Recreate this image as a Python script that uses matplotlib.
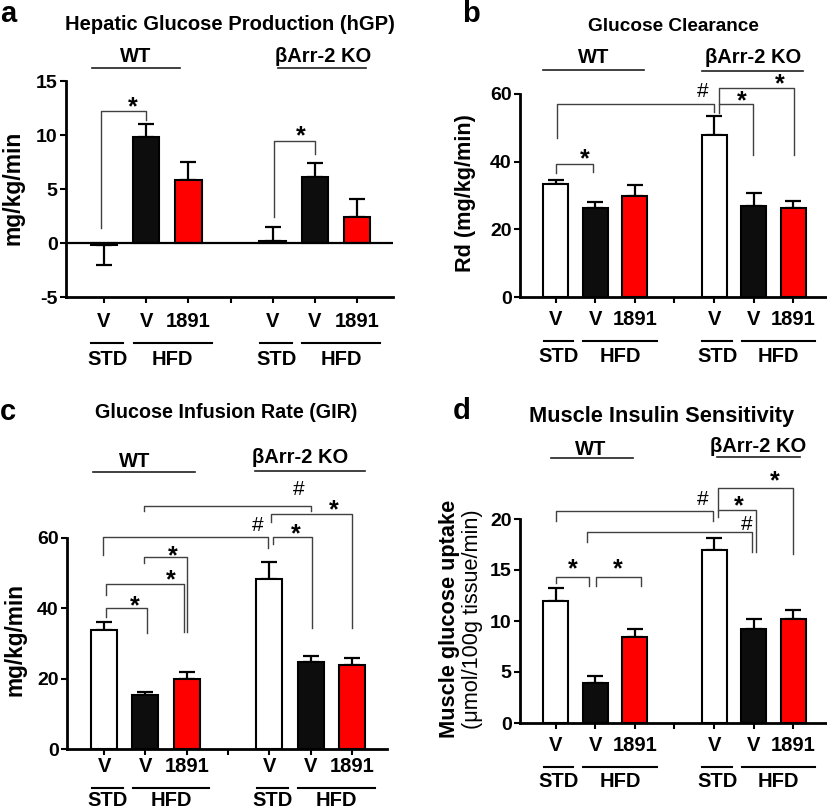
import matplotlib
matplotlib.use('Agg')
import matplotlib.pyplot as plt
from matplotlib.transforms import offset_copy

plt.rcParams['font.family'] = ['Liberation Sans', 'DejaVu Sans']
plt.rcParams['font.weight'] = 'bold'
plt.rcParams['axes.unicode_minus'] = False

W, H = 827, 810

# bar layout: WT (STD V, HFD V, HFD 1891), gap, KO (STD V, HFD V, HFD 1891)
positions = [0, 1, 2, 4, 5, 6]
tick_pos = [0, 1, 2, 3, 4, 5, 6]
bar_colors = ['white', '#0d0d0d', '#ff0000', 'white', '#0d0d0d', '#ff0000']
tick_text = ['V', 'V', '1891', 'V', 'V', '1891']

# a: hepatic glucose production (mg/kg/min)
hgp_mean = [-0.2, 9.8, 5.8, 0.15, 6.1, 2.4]
hgp_sem = [1.8, 1.2, 1.7, 1.35, 1.3, 1.7]
# b: glucose clearance Rd (mg/kg/min)
rd_mean = [33.5, 26.3, 30.0, 47.8, 26.8, 26.2]
rd_sem = [1.2, 1.7, 3.0, 5.7, 3.9, 2.1]
# c: glucose infusion rate (mg/kg/min)
gir_mean = [33.8, 15.2, 20.0, 48.3, 24.7, 23.8]
gir_sem = [2.2, 1.0, 1.8, 4.9, 1.8, 2.1]
# d: muscle glucose uptake (umol/100g tissue/min)
mgu_mean = [12.0, 3.9, 8.4, 17.0, 9.2, 10.2]
mgu_sem = [1.2, 0.7, 0.8, 1.1, 1.0, 0.9]

# significance brackets: x_left, y_left, x_right, y_right, y_top, symbol, sym_x, sym_y
hgp_sig = [(-0.07, 1.4, 1.0, 11.4, 12.2, '*', 0.68, 11.9),
           (4.03, 2.4, 5.0, 8.2, 9.4, '*', 4.67, 9.2)]
rd_sig = [(0.0, 36.6, 0.94, 36.8, 39.3, '*', 0.73, 38.6),
          (0.03, 47.1, 3.99, 54.8, 57.0, '#', 3.71, 59.0),
          (4.13, 54.3, 4.97, 42.0, 57.0, '*', 4.7, 55.8),
          (4.13, 57.0, 6.01, 42.0, 61.7, '*', 5.65, 60.7)]
gir_sig = [(0.05, 37.6, 1.03, 32.8, 39.9, '*', 0.75, 38.5),
           (0.05, 43.7, 1.94, 33.3, 46.8, '*', 1.61, 45.9),
           (0.97, 52.7, 2.0, 33.3, 54.4, '*', 1.67, 52.7),
           (-0.02, 55.1, 3.98, 57.0, 60.3, '#', 3.73, 62.0),
           (0.97, 67.7, 5.0, 67.7, 69.0, '#', 4.71, 72.1),
           (4.1, 58.2, 5.04, 34.3, 60.3, '*', 4.64, 59.0),
           (4.04, 64.5, 6.0, 34.3, 66.6, '*', 5.55, 65.7)]
mgu_sig = [(0.0, 13.75, 0.84, 13.4, 14.3, '*', 0.44, 14.35),
           (1.02, 13.4, 2.15, 13.4, 14.3, '*', 1.58, 14.35),
           (0.0, 19.8, 3.96, 19.8, 20.8, '#', 3.72, 21.4),
           (0.8, 17.7, 4.96, 16.8, 18.7, '#', 4.82, 18.9),
           (4.09, 20.2, 5.05, 16.8, 20.9, '*', 4.62, 20.55),
           (4.09, 20.9, 6.0, 16.6, 23.0, '*', 5.53, 23.05)]


def fig_rect(l, t, r, b):
    return [l / W, 1 - b / H, (r - l) / W, (b - t) / H]


def below(ax, dy):
    return offset_copy(ax.get_xaxis_transform(), fig=fig, x=0, y=-dy, units='dots')


def draw_panel(ax, mean, sem, ylim, yticks, sig, groups, bottom):
    lower = [s if m < 0 else 0 for m, s in zip(mean, sem)]
    upper = [0 if m < 0 else s for m, s in zip(mean, sem)]
    ax.errorbar(positions, mean, yerr=[lower, upper], fmt='none', ecolor='black',
                elinewidth=1.6, capsize=6, capthick=1.6, zorder=1)
    ax.bar(positions, mean, width=0.63, color=bar_colors, edgecolor='black',
           linewidth=1.5, zorder=2)
    ax.set_xlim(-0.9, 6.85)
    ax.set_ylim(*ylim)
    ax.set_yticks(yticks)
    ax.set_xticks(tick_pos)
    ax.tick_params(axis='x', length=4, width=1.5, labelbottom=False)
    ax.tick_params(axis='y', length=4, width=1.5, labelsize=14, pad=2)
    for s in ['top', 'right']:
        ax.spines[s].set_visible(False)
    for s in ['left', 'bottom']:
        ax.spines[s].set_linewidth(2)

    for xl, yl, xr, yr, yt, sym, sx, sy in sig:
        ax.plot([xl, xl, xr, xr], [yl, yt, yt, yr], color='#404040', lw=1.0,
                clip_on=False, zorder=4)
        if sym == '*':
            ax.text(sx, sy, sym, ha='center', va='baseline', fontsize=18,
                    fontweight='bold', clip_on=False)
        else:
            ax.text(sx, sy, sym, ha='center', va='baseline', fontsize=15,
                    fontweight='normal', clip_on=False)

    # genotype labels above
    for name, tx, ty, lx0, lx1, ly in groups:
        ax.text(tx, ty, name, ha='center', va='baseline', fontsize=14.5, clip_on=False)
        ax.plot([lx0, lx1], [ly, ly], color='#202020', lw=1.2, clip_on=False)

    # condition labels below
    v_dy, line_dy, txt_dy = bottom
    tv = below(ax, v_dy)
    for p, t in zip(positions, tick_text):
        ax.text(p, 0, t, transform=tv, ha='center', va='baseline', fontsize=14.5)
    tl = below(ax, line_dy)
    tt = below(ax, txt_dy)
    for off in [0, 4]:
        ax.plot([off - 0.3, off + 0.45], [0, 0], transform=tl, color='black',
                lw=1.5, clip_on=False)
        ax.plot([off + 0.7, off + 2.55], [0, 0], transform=tl, color='black',
                lw=1.5, clip_on=False)
        ax.text(off + 0.08, 0, 'STD', transform=tt, ha='center', va='baseline', fontsize=14.5)
        ax.text(off + 1.63, 0, 'HFD', transform=tt, ha='center', va='baseline', fontsize=14.5)


fig = plt.figure(figsize=(W / 100, H / 100), dpi=100)

# a
ax_a = fig.add_axes(fig_rect(66, 81, 393, 297))
draw_panel(ax_a, hgp_mean, hgp_sem, (-5, 15), [-5, 0, 5, 10, 15], hgp_sig,
           [('WT', 0.74, 16.8, -0.28, 1.80, 16.17),
            ('βArr-2 KO', 5.2, 16.8, 4.13, 6.21, 16.17)],
           (30, 46, 68))
ax_a.axhline(0, color='black', lw=1.6, zorder=3)

# b
ax_b = fig.add_axes(fig_rect(520, 94, 827, 297))
draw_panel(ax_b, rd_mean, rd_sem, (0, 60), [0, 20, 40, 60], rd_sig,
           [('WT', 0.97, 69.3, -0.33, 2.24, 67.1),
            ('βArr-2 KO', 4.99, 69.3, 3.69, 6.25, 66.9)],
           (28, 44, 64.7))

# c
ax_c = fig.add_axes(fig_rect(67, 537.7, 387, 749))
draw_panel(ax_c, gir_mean, gir_sem, (0, 60), [0, 20, 40, 60], gir_sig,
           [('WT', 0.73, 80.2, -0.27, 2.19, 78.6),
            ('βArr-2 KO', 4.75, 81.3, 3.66, 6.31, 78.9)],
           (22.7, 39, 56.5))

# d
ax_d = fig.add_axes(fig_rect(520, 519, 827, 723))
draw_panel(ax_d, mgu_mean, mgu_sem, (0, 20), [0, 5, 10, 15, 20], mgu_sig,
           [('WT', 0.89, 26.3, -0.13, 1.94, 25.95),
            ('βArr-2 KO', 5.11, 26.6, 4.07, 6.17, 26.05)],
           (27.7, 44, 63.7))

# titles, panel letters, y labels (figure pixel positions)
def ftext(x, y, s, **kw):
    fig.text(x / W, 1 - y / H, s, **kw)

ftext(230, 30, 'Hepatic Glucose Production (hGP)', ha='center', va='baseline', fontsize=14.5)
ftext(673.5, 31, 'Glucose Clearance', ha='center', va='baseline', fontsize=13.7)
ftext(226.5, 418, 'Glucose Infusion Rate (GIR)', ha='center', va='baseline', fontsize=14.2)
ftext(662, 422, 'Muscle Insulin Sensitivity', ha='center', va='baseline', fontsize=15.7)

ftext(0, 22, 'a', ha='left', va='baseline', fontsize=21)
ftext(462, 22, 'b', ha='left', va='baseline', fontsize=21)
ftext(0, 420, 'c', ha='left', va='baseline', fontsize=21)
ftext(453, 419, 'd', ha='left', va='baseline', fontsize=21)

ftext(13, 188, 'mg/kg/min', ha='center', va='center', rotation=90, fontsize=16.5)
ftext(465, 193, 'Rd (mg/kg/min)', ha='center', va='center', rotation=90, fontsize=15.6)
ftext(15, 640, 'mg/kg/min', ha='center', va='center', rotation=90, fontsize=16.3)
ftext(450, 619, 'Muscle glucose uptake', ha='center', va='center', rotation=90, fontsize=15.7)
ftext(473, 619, '(μmol/100g tissue/min)', ha='center', va='center', rotation=90,
      fontsize=15.7, fontweight='normal')

fig.savefig('out.png', dpi=100)
